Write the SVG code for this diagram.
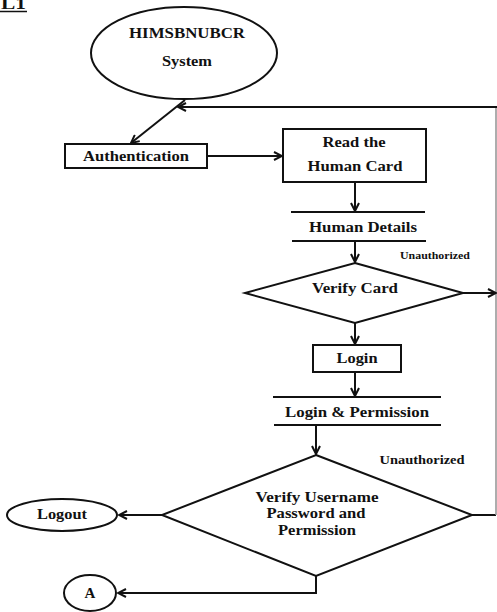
<svg xmlns="http://www.w3.org/2000/svg" width="497" height="612" viewBox="0 0 497 612">
<style>
text{font-family:"Liberation Serif","Times New Roman",serif;font-weight:bold;fill:#111;text-anchor:middle}
.t{font-size:14px}
.s{font-size:10px}
.s2{font-size:11.5px}
.sh{fill:#fff;stroke:#111;stroke-width:2}
.bar{stroke:#111;stroke-width:2.2}
.c{fill:none;stroke:#111;stroke-width:2}
.g{fill:none;stroke:#999;stroke-width:1.6}
</style>
<defs>
<marker id="ah" viewBox="0 0 10 10" refX="9" refY="5" markerWidth="10" markerHeight="10" markerUnits="userSpaceOnUse" orient="auto">
<path d="M1,1 L9,5 L1,9" fill="none" stroke="#111" stroke-width="2"/>
</marker>
</defs>
<rect width="497" height="612" fill="#fff"/>
<g id="title">
<text x="13.5" y="9" style="font-size:16px" textLength="25" lengthAdjust="spacingAndGlyphs">L1</text>
<line x1="0" y1="11.5" x2="27" y2="11.5" stroke="#111" stroke-width="1.5"/>
</g>
<g id="connectors">
<line class="c" x1="185" y1="100" x2="131" y2="143" marker-end="url(#ah)"/>
<polyline class="c" points="472,515 496,515"/>
<polyline class="g" points="496,515 496,107"/>
<polyline class="c" points="497,107 178,107" marker-end="url(#ah)"/>
<line class="c" x1="463" y1="293" x2="496" y2="293" marker-end="url(#ah)"/>
<line class="c" x1="207" y1="156" x2="282" y2="156" marker-end="url(#ah)"/>
<line class="c" x1="355" y1="182" x2="355" y2="211" marker-end="url(#ah)"/>
<line class="c" x1="355" y1="241" x2="355" y2="262" marker-end="url(#ah)"/>
<line class="c" x1="355" y1="323" x2="355" y2="344" marker-end="url(#ah)"/>
<line class="c" x1="355" y1="372" x2="355" y2="396" marker-end="url(#ah)"/>
<line class="c" x1="316" y1="425" x2="316" y2="454" marker-end="url(#ah)"/>
<line class="c" x1="162" y1="515" x2="119" y2="515" marker-end="url(#ah)"/>
<polyline class="c" points="316,576 316,593 118,593" marker-end="url(#ah)"/>
<text class="s" x="435" y="259" textLength="70" lengthAdjust="spacingAndGlyphs">Unauthorized</text>
<text class="s2" x="422" y="464" textLength="85" lengthAdjust="spacingAndGlyphs">Unauthorized</text>
</g>
<g id="system">
<ellipse class="sh" cx="184" cy="53" rx="93" ry="46"/>
<text class="t" x="187" y="38" textLength="116" lengthAdjust="spacingAndGlyphs">HIMSBNUBCR</text>
<text class="t" x="187" y="66" textLength="50" lengthAdjust="spacingAndGlyphs">System</text>
</g>
<g id="authentication">
<rect class="sh" x="65" y="144" width="142" height="24"/>
<text class="t" x="136" y="161" textLength="106" lengthAdjust="spacingAndGlyphs">Authentication</text>
</g>
<g id="read-card">
<rect class="sh" x="283" y="129" width="143" height="53"/>
<text class="t" x="354" y="147" textLength="63" lengthAdjust="spacingAndGlyphs">Read the</text>
<text class="t" x="355" y="171" textLength="95" lengthAdjust="spacingAndGlyphs">Human Card</text>
</g>
<g id="human-details">
<line class="bar" x1="291" y1="212" x2="425" y2="212"/>
<line class="bar" x1="292" y1="241" x2="426" y2="241"/>
<text class="t" x="363" y="232" textLength="108" lengthAdjust="spacingAndGlyphs">Human Details</text>
</g>
<g id="verify-card">
<polygon class="sh" points="355,263 463,293 355,323 245,293"/>
<text class="t" x="355" y="293" textLength="86" lengthAdjust="spacingAndGlyphs">Verify Card</text>
</g>
<g id="login">
<rect class="sh" x="313" y="345" width="88" height="27"/>
<text class="t" x="357" y="363" textLength="41" lengthAdjust="spacingAndGlyphs">Login</text>
</g>
<g id="login-permission">
<line class="bar" x1="273" y1="397" x2="441" y2="397"/>
<line class="bar" x1="274" y1="425" x2="441" y2="425"/>
<text class="t" x="357" y="417" textLength="144" lengthAdjust="spacingAndGlyphs">Login &amp; Permission</text>
</g>
<g id="verify-username">
<polygon class="sh" points="316,455 472,515 316,576 162,515"/>
<text class="t" x="317" y="502" textLength="123" lengthAdjust="spacingAndGlyphs">Verify Username</text>
<text class="t" x="316" y="518" textLength="99" lengthAdjust="spacingAndGlyphs">Password and</text>
<text class="t" x="317" y="535" textLength="78" lengthAdjust="spacingAndGlyphs">Permission</text>
</g>
<g id="logout">
<ellipse class="sh" cx="62" cy="515" rx="55" ry="16"/>
<text class="t" x="62" y="519" textLength="50" lengthAdjust="spacingAndGlyphs">Logout</text>
</g>
<g id="connector-a">
<ellipse class="sh" cx="90" cy="593" rx="26" ry="18"/>
<text class="t" x="90" y="598" style="font-size:15px">A</text>
</g>
</svg>
